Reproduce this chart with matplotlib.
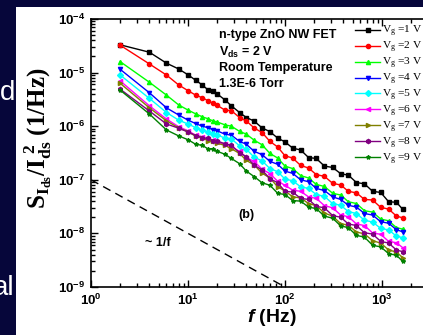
import numpy as np
import matplotlib
matplotlib.use("Agg")
import matplotlib.pyplot as plt
from matplotlib.patches import Rectangle

# fonts: Arial-like bold for most text, Times-like for legend / y label
plt.rcParams["font.family"] = ["Liberation Sans", "DejaVu Sans"]
plt.rcParams["font.weight"] = "bold"
plt.rcParams["mathtext.fontset"] = "custom"
plt.rcParams["mathtext.it"] = "Liberation Sans:italic:bold"
plt.rcParams["mathtext.rm"] = "Liberation Sans:bold"
plt.rcParams["mathtext.bf"] = "Liberation Sans:bold"

# frequency (Hz)
freq = [2, 4, 6, 8, 10, 12, 14, 16, 18, 20, 24, 28, 34, 40, 48, 58, 70, 84,
        100, 120, 145, 175, 210, 255, 310, 375, 450, 545, 660, 800, 970,
        1170, 1410, 1640]

# S_I/I^2 (1/Hz) for each gate voltage
noise_vg1 = [3.3e-5, 2.4e-5, 1.5e-5, 1.17e-5, 9.1e-6, 7.2e-6, 5.9e-6, 4.8e-6, 4.6e-6, 4.0e-6,
             3.1e-6, 2.4e-6, 1.8e-6, 1.45e-6, 1.25e-6, 9.3e-7, 7.9e-7, 6.0e-7, 5.1e-7, 3.9e-7,
             3.6e-7, 2.6e-7, 2.5e-7, 1.8e-7, 1.7e-7, 1.3e-7, 1.22e-7, 8.9e-8, 8.4e-8, 6.1e-8,
             5.8e-8, 3.9e-8, 3.8e-8, 2.8e-8]
noise_vg2 = [3.24e-5, 1.45e-5, 9.0e-6, 5.9e-6, 4.6e-6, 3.8e-6, 3.4e-6, 3.0e-6, 2.7e-6, 2.45e-6,
             2.0e-6, 1.95e-6, 1.45e-6, 1.25e-6, 9.3e-7, 7.6e-7, 5.2e-7, 4.1e-7, 2.8e-7, 2.55e-7,
             1.85e-7, 1.66e-7, 1.25e-7, 1.16e-7, 8.6e-8, 8.0e-8, 6.1e-8, 5.7e-8, 4.3e-8, 4.2e-8,
             3.05e-8, 2.85e-8, 2.1e-8, 1.95e-8]
noise_vg3 = [1.6e-5, 6.6e-6, 3.8e-6, 2.5e-6, 2.0e-6, 1.7e-6, 1.5e-6, 1.38e-6, 1.26e-6, 1.2e-6,
             1.06e-6, 1.0e-6, 8.0e-7, 7.1e-7, 5.5e-7, 4.5e-7, 3.1e-7, 2.55e-7, 1.8e-7, 1.62e-7,
             1.2e-7, 1.08e-7, 8.2e-8, 7.5e-8, 5.6e-8, 5.2e-8, 3.9e-8, 3.6e-8, 2.65e-8, 2.5e-8,
             1.85e-8, 1.72e-8, 1.28e-8, 1.2e-8]
noise_vg4 = [1.15e-5, 4.2e-6, 2.2e-6, 1.62e-6, 1.3e-6, 1.12e-6, 1.0e-6, 9.4e-7, 8.6e-7, 8.2e-7,
             7.1e-7, 6.8e-7, 5.2e-7, 4.6e-7, 3.4e-7, 2.95e-7, 2.2e-7, 1.95e-7, 1.45e-7, 1.32e-7,
             1.0e-7, 9.2e-8, 6.9e-8, 6.3e-8, 4.8e-8, 4.3e-8, 3.35e-8, 3.1e-8, 2.35e-8, 2.2e-8,
             1.65e-8, 1.55e-8, 1.17e-8, 1.07e-8]
noise_vg5 = [9.0e-6, 3.3e-6, 1.8e-6, 1.3e-6, 1.1e-6, 9.4e-7, 8.4e-7, 7.9e-7, 7.2e-7, 6.9e-7,
             6.0e-7, 5.8e-7, 4.3e-7, 3.7e-7, 2.65e-7, 2.25e-7, 1.62e-7, 1.42e-7, 1.03e-7, 9.6e-8,
             7.4e-8, 6.9e-8, 5.3e-8, 4.9e-8, 3.6e-8, 3.35e-8, 2.55e-8, 2.35e-8, 1.76e-8, 1.63e-8,
             1.24e-8, 1.16e-8, 8.9e-9, 8.3e-9]
noise_vg6 = [7.0e-6, 2.4e-6, 1.36e-6, 9.8e-7, 8.2e-7, 6.8e-7, 6.4e-7, 5.7e-7, 5.5e-7, 5.0e-7,
             4.6e-7, 4.1e-7, 3.4e-7, 2.6e-7, 2.2e-7, 1.58e-7, 1.3e-7, 9.4e-8, 7.9e-8, 6.4e-8,
             6.1e-8, 4.8e-8, 4.5e-8, 3.3e-8, 3.0e-8, 2.2e-8, 2.05e-8, 1.5e-8, 1.4e-8, 1.02e-8,
             9.6e-9, 7.1e-9, 6.7e-9, 5.4e-9]
noise_vg7 = [6.3e-6, 2.2e-6, 1.26e-6, 9.3e-7, 7.9e-7, 6.5e-7, 6.1e-7, 5.4e-7, 5.3e-7, 4.8e-7,
             4.4e-7, 3.8e-7, 3.1e-7, 2.3e-7, 1.9e-7, 1.33e-7, 1.08e-7, 7.4e-8, 6.2e-8, 4.8e-8,
             4.6e-8, 3.6e-8, 3.3e-8, 2.4e-8, 2.1e-8, 1.52e-8, 1.42e-8, 1.06e-8, 9.8e-9, 7.3e-9,
             6.6e-9, 4.9e-9, 4.5e-9, 3.5e-9]
noise_vg8 = [4.9e-6, 1.92e-6, 1.1e-6, 9.2e-7, 7.8e-7, 6.7e-7, 6.1e-7, 5.9e-7, 5.4e-7, 5.3e-7,
             4.7e-7, 4.4e-7, 3.2e-7, 2.7e-7, 1.88e-7, 1.52e-7, 1.05e-7, 8.8e-8, 6.1e-8, 5.9e-8,
             4.5e-8, 4.3e-8, 3.2e-8, 3.0e-8, 2.15e-8, 2.0e-8, 1.5e-8, 1.4e-8, 1.03e-8, 9.7e-9,
             7.1e-9, 6.6e-9, 4.9e-9, 4.55e-9]
noise_vg9 = [4.7e-6, 1.69e-6, 8.5e-7, 6.6e-7, 5.6e-7, 4.6e-7, 4.4e-7, 3.8e-7, 3.8e-7, 3.4e-7,
             3.0e-7, 2.5e-7, 2.0e-7, 1.45e-7, 1.15e-7, 8.8e-8, 7.9e-8, 5.6e-8, 5.3e-8, 4.1e-8,
             4.0e-8, 3.1e-8, 2.9e-8, 2.1e-8, 1.92e-8, 1.38e-8, 1.28e-8, 9.2e-9, 8.5e-9, 6.0e-9,
             5.6e-9, 4.2e-9, 3.9e-9, 3.0e-9]

gate_labels = ["1", "2", "3", "4", "5", "6", "7", "8", "9"]
colors = ["#000000", "#ff0000", "#00ff00", "#0000ff", "#00ffff",
          "#ff00ff", "#808000", "#800080", "#008000"]
markers = ["s", "o", "^", "v", "D", "<", ">", "h", "*"]

# 1/f guide line
guide_f = [1, 100]
guide_s = [1e-7, 1e-9]

W, H = 423, 335
def fx(x):
    return x / W
def fy(y):
    return 1 - y / H

fig = plt.figure(figsize=(W / 100, H / 100), dpi=100, facecolor="#06063a")
fig.patches.append(Rectangle((fx(16), 0), 1, fy(7), transform=fig.transFigure,
                             facecolor="white", edgecolor="none", zorder=-5))

# leftover slide text
fig.text(fx(15), fy(93), "d", color="white", fontsize=20, fontweight="normal",
         ha="right", va="center")
fig.text(fx(14), fy(288), "al", color="white", fontsize=20, fontweight="normal",
         ha="right", va="center")

ax = fig.add_axes([fx(91), fy(287), 362 / W, 268 / H])
ax.set_xscale("log")
ax.set_yscale("log")

all_series = [noise_vg1, noise_vg2, noise_vg3, noise_vg4, noise_vg5,
              noise_vg6, noise_vg7, noise_vg8, noise_vg9]
for vals, col, mk, lab in zip(all_series, colors, markers, gate_labels):
    ax.plot(freq, vals, color=col, marker=mk, ms=3, lw=1.0,
            label="V$_\\mathregular{g}$ =" + lab + " V")

ax.plot(guide_f, guide_s, color="black", lw=1, dashes=(6, 4))

ax.set_xlim(1, 10 ** (362 / 97))
ax.set_ylim(1e-9, 1e-4)

ax.tick_params(which="both", direction="in", top=True, right=True, width=1,
               labelsize=9.5)
ax.tick_params(which="major", length=5, pad=4)
ax.tick_params(which="minor", length=3)
for sp in ax.spines.values():
    sp.set_linewidth(1.2)

ax.set_xlabel("$\\it{f}$ (Hz)", fontsize=14, fontweight="bold", va="center")
ax.xaxis.set_label_coords(0.5, (287 - 318) / 268)
ax.set_ylabel("$\\mathregular{S_{I_{ds}}/I_{ds}^{\\ 2}}$ (1/Hz)", fontsize=18,
              family="Liberation Serif", fontweight="bold", va="center")
ax.yaxis.set_label_coords((38 - 91) / 362, (287 - 138) / 268)

ax.legend(loc="upper left", bbox_to_anchor=(fx(355), fy(24)),
          bbox_transform=fig.transFigure, frameon=False,
          prop={"family": "Liberation Serif", "weight": "normal", "size": 8.2},
          handlelength=2.2, handletextpad=0.2, labelspacing=0.05,
          borderpad=0, borderaxespad=0, markerscale=1)

info = ["n-type ZnO NW FET", "V$_\\mathregular{ds}$ = 2 V",
        "Room Temperature", "1.3E-6 Torr"]
for txt, yy in zip(info, [35, 52, 68, 84]):
    fig.text(fx(219), fy(yy), txt, fontsize=9, ha="left", va="center")

fig.text(fx(246), fy(215), "(b)", fontsize=9, ha="center", va="center")
fig.text(fx(158), fy(243), "~ 1/f", fontsize=9, ha="center", va="center")

fig.savefig("out.png", dpi=100, facecolor=fig.get_facecolor())
